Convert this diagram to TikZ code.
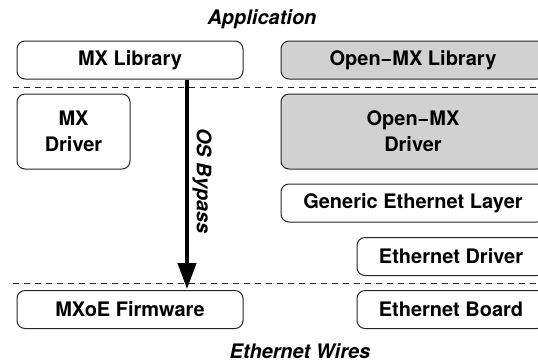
\documentclass[tikz,border=0pt]{standalone}
\usepackage{fontspec}
\setmainfont{TeX Gyre Heros}
\usepackage{tikz}
\usetikzlibrary{arrows.meta}

\tikzset{
  layer/.style={draw=black!85, line width=0.75pt, rounded corners=6pt, fill=white,
    inner sep=0.75pt, align=center, font=\fontsize{15}{19.5}\selectfont\bfseries},
  omxlayer/.style={layer, fill=black!18},
  sepline/.style={black!85, line width=0.75pt, dash pattern=on 4.5pt off 3.75pt},
  caption/.style={inner sep=0.75pt, font=\fontsize{15}{18}\selectfont\bfseries\itshape}
}

\begin{document}
\begin{tikzpicture}[x=0.75pt,y=0.75pt,yscale=-1,xscale=1]
\useasboundingbox (0,0) rectangle (538,362);
\clip (0,0) rectangle (538,362);

% Dashed separators
\draw [sepline] (13,87) -- (545,87);
\draw [sepline] (13,283) -- (545,283);

% Text Node
\node [caption] (app) at (262,19) {Application};
% Text Node
\node [caption] (wires) at (300,351) {Ethernet Wires};

% Rounded Rect
\node [layer, minimum width=169.5pt, minimum height=28.5pt] (mxlib) at (130,60) {MX Library};
% Rounded Rect
\node [omxlayer, minimum width=198pt, minimum height=28.5pt] (omxlib) at (413,60) {Open−MX Library};
% Rounded Rect
\node [layer, minimum width=84.75pt, minimum height=56.25pt] (mxdrv) at (73.5,131.5) {MX\\Driver};
% Rounded Rect
\node [omxlayer, minimum width=198pt, minimum height=56.25pt] (omxdrv) at (413,131.5) {Open−MX\\Driver};
% Rounded Rect
\node [layer, minimum width=198pt, minimum height=28.5pt] (ethlayer) at (413,203) {Generic Ethernet Layer};
% Rounded Rect
\node [layer, minimum width=141pt, minimum height=28.5pt] (ethdrv) at (451,256.5) {Ethernet Driver};
% Rounded Rect
\node [layer, minimum width=141pt, minimum height=28.5pt] (ethboard) at (451,309.5) {Ethernet Board};
% Rounded Rect
\node [layer, minimum width=169.5pt, minimum height=28.5pt] (firmware) at (130,309.5) {MXoE Firmware};

% Bypass arrow
\coordinate (bypass) at (187,289);
\draw [line width=3pt, -{Triangle[length=19.5pt,width=13.5pt]}] (mxlib.south -| bypass) -- (bypass);
% Text Node
\node [caption, rotate=-90] (bypasslabel) at (202,181) {OS Bypass};

\end{tikzpicture}
\end{document}
